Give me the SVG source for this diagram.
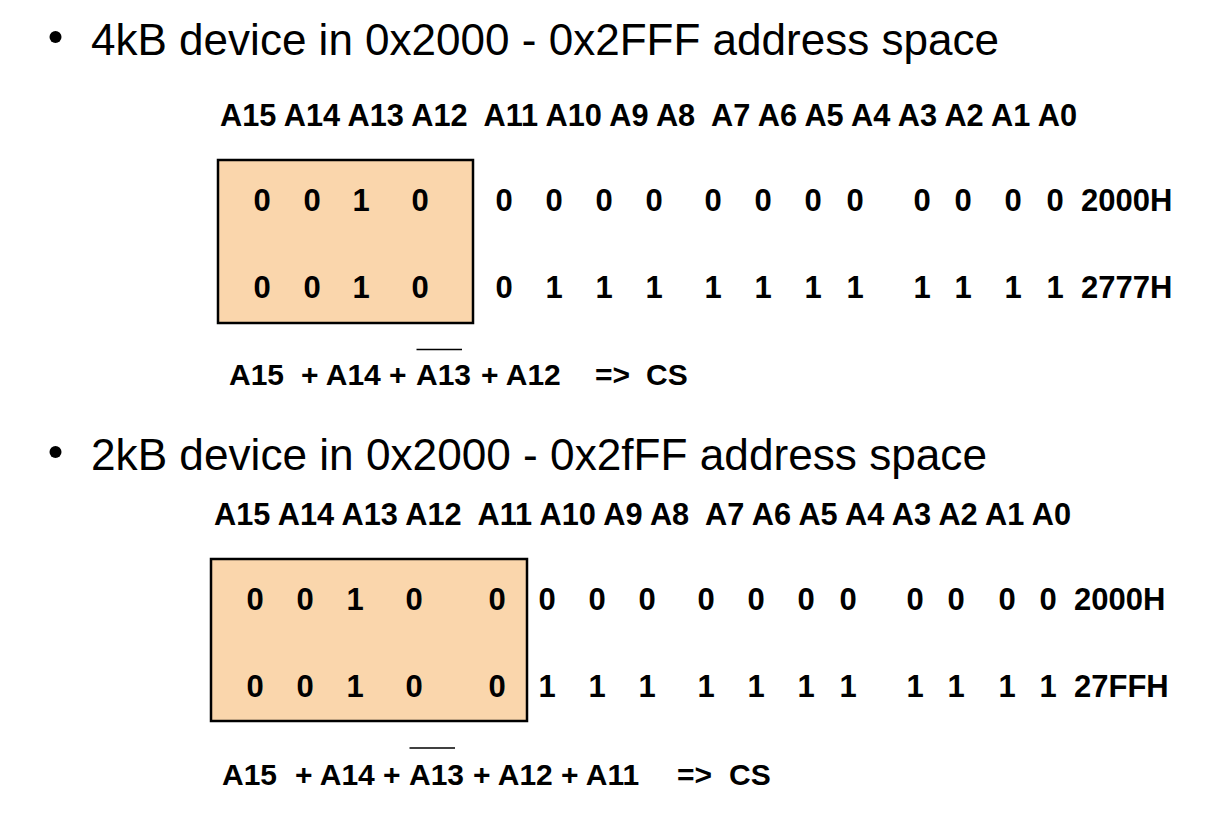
<svg xmlns="http://www.w3.org/2000/svg" width="1214" height="826" viewBox="0 0 1214 826">
<style>
.title{font-family:"Liberation Sans",Arial,sans-serif;font-size:44px;fill:#000;}
.b{font-family:"Liberation Sans",Arial,sans-serif;font-size:31px;font-weight:bold;fill:#000;}
.f{font-family:"Liberation Sans",Arial,sans-serif;font-size:30px;font-weight:bold;fill:#000;}
.d{font-family:"Liberation Sans",Arial,sans-serif;font-size:31px;font-weight:bold;fill:#000;text-anchor:middle;}
.box{fill:#FAD6AC;stroke:#000;stroke-width:2.5;}
.bar{stroke:#000;stroke-width:1.6;}
</style>
<rect width="1214" height="826" fill="#fff"/>

<g id="section1">
  <g id="title1">
    <circle cx="55.5" cy="37" r="6" fill="#000"/>
    <text class="title" x="91" y="55" textLength="908" lengthAdjust="spacingAndGlyphs">4kB device in 0x2000 - 0x2FFF address space</text>
  </g>
  <g id="header1">
    <text class="b" x="220" y="126" xml:space="preserve" textLength="857" lengthAdjust="spacingAndGlyphs">A15 A14 A13 A12  A11 A10 A9 A8  A7 A6 A5 A4 A3 A2 A1 A0</text>
  </g>
  <g id="box1">
    <rect class="box" x="218" y="160" width="255" height="163"/>
  </g>
  <g id="row1a">
    <text class="d" x="262" y="211">0</text><text class="d" x="312" y="211">0</text><text class="d" x="361" y="211">1</text><text class="d" x="420" y="211">0</text>
    <text class="d" x="504" y="211">0</text><text class="d" x="554" y="211">0</text><text class="d" x="604" y="211">0</text><text class="d" x="654" y="211">0</text>
    <text class="d" x="713" y="211">0</text><text class="d" x="763" y="211">0</text><text class="d" x="813" y="211">0</text><text class="d" x="855" y="211">0</text>
    <text class="d" x="922" y="211">0</text><text class="d" x="963" y="211">0</text><text class="d" x="1013" y="211">0</text><text class="d" x="1055" y="211">0</text>
    <text class="b" x="1081" y="211">2000H</text>
  </g>
  <g id="row1b">
    <text class="d" x="262" y="298">0</text><text class="d" x="312" y="298">0</text><text class="d" x="361" y="298">1</text><text class="d" x="420" y="298">0</text>
    <text class="d" x="504" y="298">0</text><text class="d" x="554" y="298">1</text><text class="d" x="604" y="298">1</text><text class="d" x="654" y="298">1</text>
    <text class="d" x="713" y="298">1</text><text class="d" x="763" y="298">1</text><text class="d" x="813" y="298">1</text><text class="d" x="855" y="298">1</text>
    <text class="d" x="922" y="298">1</text><text class="d" x="963" y="298">1</text><text class="d" x="1013" y="298">1</text><text class="d" x="1055" y="298">1</text>
    <text class="b" x="1081" y="298">2777H</text>
  </g>
  <g id="formula1">
    <line class="bar" x1="416.5" y1="349.5" x2="462" y2="349.5"/>
    <text class="f" x="229" y="385">A15<tspan x="301">+ A14 +</tspan><tspan x="416">A13</tspan><tspan x="481">+ A12</tspan><tspan x="595">=&gt;</tspan><tspan x="646">CS</tspan></text>
  </g>
</g>

<g id="section2">
  <g id="title2">
    <circle cx="55.5" cy="452" r="6" fill="#000"/>
    <text class="title" x="91" y="470" textLength="896" lengthAdjust="spacingAndGlyphs">2kB device in 0x2000 - 0x2fFF address space</text>
  </g>
  <g id="header2">
    <text class="b" x="214" y="525" xml:space="preserve" textLength="857" lengthAdjust="spacingAndGlyphs">A15 A14 A13 A12  A11 A10 A9 A8  A7 A6 A5 A4 A3 A2 A1 A0</text>
  </g>
  <g id="box2">
    <rect class="box" x="211" y="559" width="316" height="162"/>
  </g>
  <g id="row2a">
    <text class="d" x="255" y="610">0</text><text class="d" x="305" y="610">0</text><text class="d" x="355" y="610">1</text><text class="d" x="414" y="610">0</text><text class="d" x="497" y="610">0</text>
    <text class="d" x="547" y="610">0</text><text class="d" x="597" y="610">0</text><text class="d" x="647" y="610">0</text>
    <text class="d" x="706" y="610">0</text><text class="d" x="756" y="610">0</text><text class="d" x="806" y="610">0</text><text class="d" x="848" y="610">0</text>
    <text class="d" x="915" y="610">0</text><text class="d" x="956" y="610">0</text><text class="d" x="1007" y="610">0</text><text class="d" x="1048" y="610">0</text>
    <text class="b" x="1074" y="610">2000H</text>
  </g>
  <g id="row2b">
    <text class="d" x="255" y="697">0</text><text class="d" x="305" y="697">0</text><text class="d" x="355" y="697">1</text><text class="d" x="414" y="697">0</text><text class="d" x="497" y="697">0</text>
    <text class="d" x="547" y="697">1</text><text class="d" x="597" y="697">1</text><text class="d" x="647" y="697">1</text>
    <text class="d" x="706" y="697">1</text><text class="d" x="756" y="697">1</text><text class="d" x="806" y="697">1</text><text class="d" x="848" y="697">1</text>
    <text class="d" x="915" y="697">1</text><text class="d" x="956" y="697">1</text><text class="d" x="1007" y="697">1</text><text class="d" x="1048" y="697">1</text>
    <text class="b" x="1074" y="697">27FFH</text>
  </g>
  <g id="formula2">
    <line class="bar" x1="409.5" y1="748" x2="455" y2="748"/>
    <text class="f" x="222" y="785">A15<tspan x="295">+ A14 +</tspan><tspan x="409">A13</tspan><tspan x="473">+ A12 + A11</tspan><tspan x="677">=&gt;</tspan><tspan x="729">CS</tspan></text>
  </g>
</g>
</svg>
